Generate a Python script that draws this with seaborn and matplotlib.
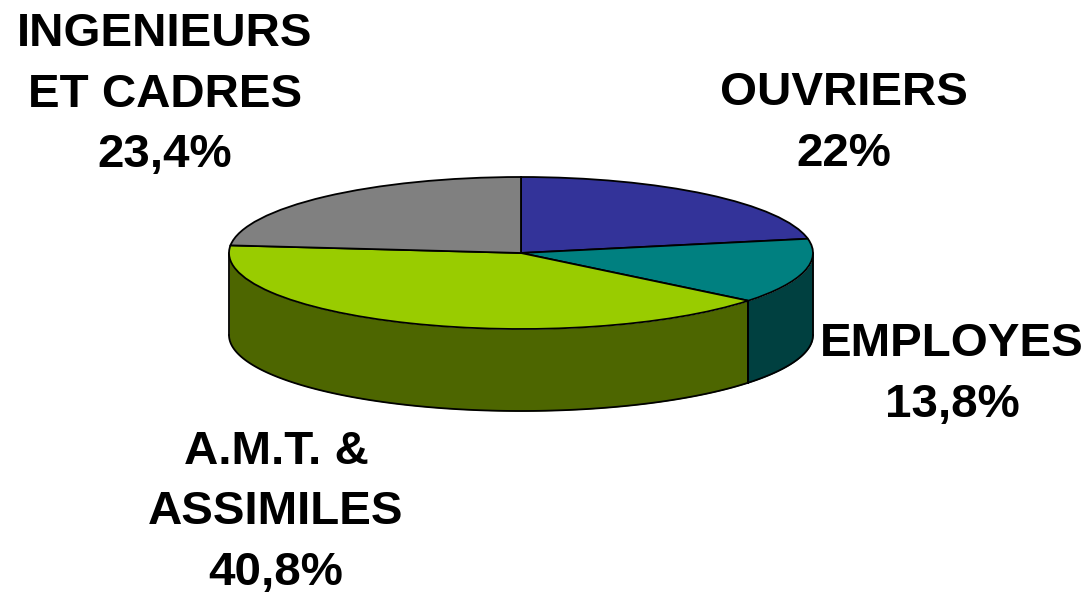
import numpy as np
import seaborn as sns
from matplotlib import pyplot as plt

# parts du camembert
categories = ['OUVRIERS', 'EMPLOYES', 'A.M.T. &\nASSIMILES', 'INGENIEURS\nET CADRES']
values = [22, 13.8, 40.8, 23.4]
value_labels = ['22%', '13,8%', '40,8%', '23,4%']
top_colors = ['#333399', '#008080', '#99CC00', '#808080']
side_colors = ['#1A1A4D', '#004040', '#4D6600', '#404040']

sns.set_theme(style='white')
plt.rcParams['font.family'] = ['Liberation Sans', 'DejaVu Sans']

W, H = 1088, 596
cx, cy, rx, ry, depth = 521, 253, 292, 76, 82

fig = plt.figure(figsize=(W / 100, H / 100), dpi=100)
ax = fig.add_axes([0, 0, 1, 1])

# face du dessus (ellipse : 1 unite y = ry pixels)
ax.pie(values, colors=top_colors, startangle=90, counterclock=False,
       wedgeprops={'edgecolor': 'black', 'linewidth': 1.3, 'zorder': 3})
ax.set_aspect('auto')
ax.set_xlim(-cx / rx, (W - cx) / rx)
ax.set_ylim(-(H - cy) / ry, cy / ry)

# parois visibles : partie avant du cylindre
d = depth / ry
edges = 90 - np.cumsum([0] + values) * 3.6
for i in range(len(values)):
    start, end = edges[i + 1], edges[i]
    # seule la moitie basse (180 a 360 deg) est visible
    a1 = max(start, -180)
    a2 = min(end, 0)
    if a1 >= a2:
        continue
    t = np.radians(np.linspace(a1, a2, 120))
    x, y = np.cos(t), np.sin(t)
    ax.fill_between(x, y, y - d, color=side_colors[i], zorder=1, linewidth=0)
    ax.plot(x, y - d, color='black', lw=1.3, zorder=2)
    ax.plot([x[0], x[0]], [y[0], y[0] - d], color='black', lw=1.3, zorder=2)
    ax.plot([x[-1], x[-1]], [y[-1], y[-1] - d], color='black', lw=1.3, zorder=2)

# etiquettes
label_pos = [(844, 93), (952, 344), (276, 452), (165, 34)]
for name, val, (px, py) in zip(categories, value_labels, label_pos):
    lines = name.split('\n') + [val]
    for k, line in enumerate(lines):
        ax.text(px / W, 1 - (py + k * 60.5) / H, line, transform=ax.transAxes,
                ha='center', va='center', fontsize=34.2, fontweight='bold', color='black')

fig.savefig('out.png', dpi=100)
